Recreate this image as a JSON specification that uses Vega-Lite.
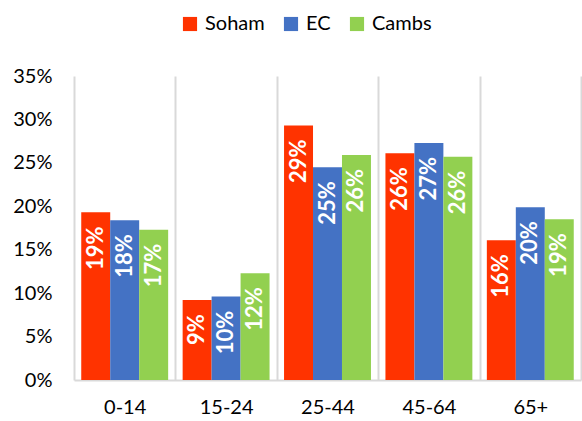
{
  "$schema": "https://vega.github.io/schema/vega-lite/v6.json",
  "autosize": {"type": "none"},
  "padding": {"left": 74, "top": 76, "right": 1, "bottom": 41},
  "width": 507,
  "height": 304,
  "background": "white",
  "config": {
    "view": {"stroke": null},
    "font": "Lato",
    "axis": {"labelFont": "Lato", "labelFontSize": 20, "labelColor": "#000000"}
  },
  "data": {
    "values": [
      {"age": "0-14", "area": "Soham", "share": 0.193},
      {"age": "0-14", "area": "EC", "share": 0.184},
      {"age": "0-14", "area": "Cambs", "share": 0.173},
      {"age": "15-24", "area": "Soham", "share": 0.092},
      {"age": "15-24", "area": "EC", "share": 0.096},
      {"age": "15-24", "area": "Cambs", "share": 0.123},
      {"age": "25-44", "area": "Soham", "share": 0.293},
      {"age": "25-44", "area": "EC", "share": 0.245},
      {"age": "25-44", "area": "Cambs", "share": 0.259},
      {"age": "45-64", "area": "Soham", "share": 0.261},
      {"age": "45-64", "area": "EC", "share": 0.273},
      {"age": "45-64", "area": "Cambs", "share": 0.257},
      {"age": "65+", "area": "Soham", "share": 0.161},
      {"age": "65+", "area": "EC", "share": 0.199},
      {"age": "65+", "area": "Cambs", "share": 0.185}
    ]
  },
  "encoding": {
    "x": {
      "field": "age", "type": "nominal", "sort": null,
      "scale": {"paddingInner": 0, "paddingOuter": 0},
      "axis": {
        "title": null, "labelAngle": 0, "ticks": false, "labelPadding": 17,
        "grid": true, "tickBand": "extent", "gridColor": "#D9D9D9", "gridWidth": 2,
        "domainColor": "#D9D9D9", "domainWidth": 2
      }
    },
    "xOffset": {
      "field": "area", "type": "nominal", "sort": ["Soham", "EC", "Cambs"],
      "scale": {"paddingInner": 0, "paddingOuter": 0.25}
    },
    "y": {
      "field": "share", "type": "quantitative",
      "scale": {"domain": [0, 0.35], "nice": false},
      "axis": {
        "title": null, "format": ".0%", "values": [0, 0.05, 0.1, 0.15, 0.2, 0.25, 0.3, 0.35],
        "grid": false, "domain": false, "ticks": false, "labelPadding": 22
      }
    }
  },
  "layer": [
    {
      "mark": {"type": "bar"},
      "encoding": {
        "color": {
          "field": "area", "type": "nominal", "sort": ["Soham", "EC", "Cambs"],
          "scale": {"domain": ["Soham", "EC", "Cambs"], "range": ["#FF3300", "#4472C4", "#92D050"]},
          "legend": {
            "title": null, "orient": "none", "direction": "horizontal",
            "legendX": 106, "legendY": -62,
            "symbolType": "square", "symbolSize": 200, "symbolStrokeWidth": 0,
            "labelFontSize": 20, "labelFont": "Lato", "labelColor": "#000000",
            "columnPadding": 16, "labelOffset": 5
          }
        }
      }
    },
    {
      "mark": {
        "type": "text", "angle": -90, "align": "right", "baseline": "middle",
        "dx": -14, "color": "white", "fontWeight": "bold", "fontSize": 22, "font": "Lato"
      },
      "encoding": {
        "text": {"field": "share", "type": "quantitative", "format": ".0%"}
      }
    }
  ]
}
